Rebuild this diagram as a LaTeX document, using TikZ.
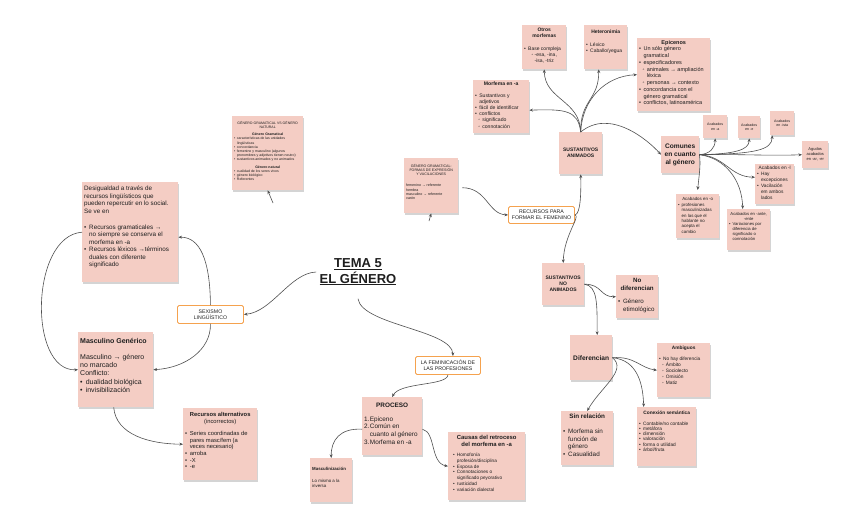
\documentclass[tikz,border=0pt]{standalone}
\usepackage{fontspec}
\setmainfont{Liberation Sans}
\usetikzlibrary{arrows.meta,shadows,calc}
\definecolor{boxpink}{RGB}{244,205,196}
\definecolor{lgray}{RGB}{80,80,80}
\definecolor{borange}{RGB}{245,162,78}
\definecolor{txt}{RGB}{30,30,30}
\newcommand{\fsz}[2]{\fontsize{#1pt}{#2pt}\selectfont}
\newcommand{\bul}[1]{\par\noindent\hangindent=0.8em\hangafter=1\relax\makebox[0.8em][l]{•}#1\par}
\newcommand{\sbul}[1]{\par\noindent\hangindent=1.4em\hangafter=1\relax\hspace*{0.6em}\makebox[0.8em][l]{◦}#1\par}
\newcommand{\nbul}[2]{\par\noindent\hangindent=0.9em\hangafter=1\relax\makebox[0.9em][l]{#1}#2\par}
\tikzset{
  pinkbox/.style={fill=boxpink, inner sep=2pt, anchor=north west, text=txt,
    drop shadow={shadow xshift=0.3pt, shadow yshift=-1.6pt, opacity=0.28, fill=black!60}},
  obox/.style={draw=borange, line width=0.9pt, fill=white, rounded corners=1.5pt,
    anchor=north west, align=center, inner sep=1pt, font=\fsz{5.2}{6}, text=txt},
  conn/.style={draw=lgray, line width=0.6pt, -{Stealth[length=3.6pt,width=3pt]}}
}
\newcommand{\pbx}[7]{%
  \node[pinkbox] (#1) at (#2,#3) {\parbox[t][\dimexpr#5pt-4pt\relax][#6]{\dimexpr#4pt-4pt\relax}{\parskip=0pt\raggedright #7}};}
\begin{document}
\begin{tikzpicture}[x=1pt,y=-1pt]
\useasboundingbox[fill=white] (0,0) rectangle (848,519);

% title
\node[font=\bfseries\fsz{13}{15.5}, text=txt, align=center] (tema) at (358,272) {\underline{TEMA 5}\\\underline{EL GÉNERO}};

% orange boxes
\node[obox, minimum width=66pt, minimum height=18pt] (sex) at (177,305) {SEXISMO\\LINGÜÍSTICO};
\node[obox, minimum width=65pt, minimum height=18pt] (fem) at (415,356) {LA FEMINICACIÓN DE\\LAS PROFESIONES};
\node[obox, minimum width=66pt, minimum height=17pt] (rec) at (508,206) {RECURSOS PARA\\FORMAR EL FEMENINO};

% pink boxes
\pbx{gvn}{232}{116}{71}{74}{t}{\fsz{3.5}{4.2}\vspace*{3pt}{\centering GÉNERO GRAMATICAL VS GÉNERO\\NATURAL\par}\vspace{3pt}{\centering\bfseries Género Gramatical\par}\bul{características de las unidades\newline lingüísticas}\bul{concordancia}\bul{femenino y masculino (algunos\newline pronombres y adjetivos tienen neutro)}\bul{sustantivos animados y no animados}\vspace{3pt}{\centering\bfseries Género natural\par}\bul{cualidad de los seres vivos}\bul{género biológico}\bul{Referentes}}

\pbx{frm}{404}{158}{54}{55}{t}{\fsz{3.6}{4.2}\vspace*{4pt}{\centering GÉNERO GRAMATICAL:\\FORMAS DE EXPRESIÓN\\Y VACILACIONES\par}\vspace{7pt}femenino → referente\\hembra\\masculino → referente\\varón}

\pbx{om}{522}{25}{44}{44}{t}{\fsz{5}{6.3}\vspace*{1pt}{\centering\bfseries Otros\\morfemas\par}\vspace{6pt}\bul{Base compleja}{\centering ◦ -esa, -ina,\\-isa, -triz\par}}

\pbx{het}{584}{25}{43}{44}{t}{\fsz{5}{6.5}\vspace*{3pt}{\centering\bfseries Heteronimia\par}\vspace{6pt}\bul{Léxico}\bul{Caballo/yegua}}

\pbx{epi}{637}{38}{73}{73}{t}{\fsz{5.5}{6.75}{\centering\bfseries Epicenos\par}\bul{Un sólo género\newline gramatical}\bul{especificadores}\sbul{animales → ampliación\newline léxica}\sbul{personas → contexto}\bul{concordancia con el\newline género gramatical}\bul{conflictos, latinoamérica}}

\pbx{mfa}{473}{80}{56}{53}{t}{\fsz{5.1}{6.2}{\centering\bfseries Morfema en -a\par}\vspace{5pt}\bul{Sustantivos y\newline adjetivos}\bul{fácil de identificar}\bul{conflictos}\sbul{significado}\sbul{connotación}}

\pbx{sa}{559}{132}{43}{42}{c}{\fsz{5}{6}\centering\bfseries SUSTANTIVOS\\ANIMADOS}

\pbx{com}{661}{136}{38}{37}{c}{\fsz{6.6}{7.9}\centering\bfseries Comunes\\en cuanto\\al género}

\pbx{acA}{703}{115}{24}{23}{c}{\fsz{3.6}{4.8}\centering Acabados\\en -a}
\pbx{acE}{738}{116}{22}{22}{c}{\fsz{3.6}{4.8}\centering Acabados\\en -e}
\pbx{acI}{770}{111}{24}{24}{c}{\fsz{3.6}{4.8}\centering Acabados\\en -ista}
\pbx{agu}{802}{141}{26}{27}{c}{\fsz{4}{5}\centering Agudos\\acabados\\en -ar, -er}

\pbx{acL}{755}{164}{39}{40}{t}{\fsz{4.8}{5.9}{\centering Acabados en -l\par}\bul{Hay\newline excepciones}\bul{Vacilación\newline em ambos\newline lados}}

\pbx{acO}{676}{194}{43}{44}{t}{\fsz{4.4}{5.4}\vspace*{1.5pt}{\centering Acabados en -o\par}\bul{profesiones\newline masculinizadas\newline en las que el\newline hablante no\newline acepta el\newline cambio}}

\pbx{acN}{727}{209}{43}{41}{t}{\fsz{4.2}{5.1}\vspace*{1pt}{\centering Acabados en -ante,\\-ente\par}\bul{Variaciones por\newline diferencia de\newline significado o\newline connotación}}

\pbx{desig}{82}{182}{96}{100}{t}{\fsz{6.3}{7.4}\vspace*{2pt}Desigualdad a través de\\recursos lingüísticos que\\pueden repercutir en lo social.\\Se ve en\par\vspace{9pt}\bul{Recursos gramaticales →\newline no siempre se conserva el\newline morfema en -a}\bul{Recursos léxicos →términos\newline duales con diferente\newline significado}}

\pbx{masc}{78}{332}{75}{75}{t}{\fsz{7}{8.2}\vspace*{4pt}\textbf{Masculino Genérico}\par\vspace{8pt}Masculino → género\\no marcado\\Conflicto:\par\bul{dualidad biológica}\bul{invisibilización}}

\pbx{recalt}{183}{408}{74}{72}{t}{\fsz{5.8}{6.6}\vspace*{2pt}{\centering\textbf{Recursos alternativos}\\(incorrectos)\par}\vspace{6pt}\bul{Series coordinadas de\newline pares masc/fem (a\newline veces necesario)}\bul{arroba}\bul{-X}\bul{-e}}

\pbx{proc}{362}{397}{60}{58}{t}{\fsz{6.4}{7.6}\vspace*{4pt}{\centering\bfseries PROCESO\par}\vspace{6pt}\nbul{1.}{Epiceno}\nbul{2.}{Común en\newline cuanto al género}\nbul{3.}{Morfema en -a}}

\pbx{mascz}{310}{458}{42}{44}{t}{\fsz{4.4}{5}\vspace*{7pt}\textbf{Masculinización}\par\vspace{7pt}Lo mismo a la\\inversa}

\pbx{causas}{448}{432}{77}{68}{t}{\fsz{5.9}{7.2}\vspace*{1pt}{\centering\bfseries Causas del retroceso\\del morfema en -a\par}\vspace{4pt}\fsz{4.7}{5.8}\leftskip=3pt\bul{Homofonía\newline profesión/disciplina}\bul{Esposa de}\bul{Connotaciones o\newline significado peyorativo}\bul{rusticidad}\bul{variación dialectal}}

\pbx{sna}{542}{263}{42}{42}{c}{\fsz{5}{6}\centering\bfseries SUSTANTIVOS\\NO\\ANIMADOS}

\pbx{nod}{616}{275}{42}{43}{t}{\fsz{6.2}{7.6}\vspace*{1pt}{\centering\bfseries No\\diferencian\par}\vspace{6pt}\bul{Género\newline etimológico}}

\pbx{dif}{570}{335}{42}{45}{c}{\fsz{6.6}{8}\centering\bfseries Diferencian}

\pbx{amb}{657}{343}{53}{54}{t}{\fsz{4.8}{6}\vspace*{1pt}{\centering\bfseries Ambiguos\par}\vspace{5pt}\bul{No hay diferencia}\sbul{Ámbito}\sbul{Sociolecto}\sbul{Omisión}\sbul{Matiz}}

\pbx{sinrel}{561}{411}{52}{54}{t}{\fsz{6.3}{7.6}\vspace*{1pt}{\centering\bfseries Sin relación\par}\vspace{7pt}\bul{Morfema sin\newline función de\newline género}\bul{Casualidad}}

\pbx{conex}{637}{407}{59}{59}{t}{\fsz{4.8}{5.3}\vspace*{2pt}{\centering\bfseries Conexión semántica\par}\vspace{5pt}\bul{Contable/no contable}\bul{metáfora}\bul{dimensión}\bul{valoración}\bul{forma o utilidad}\bul{árbol/fruta}}

% connectors
\draw[conn] (tema.west) .. controls (290,273) and (272,312) .. (sex.east);
\draw[conn] ([yshift=-10pt]tema.south) .. controls (362,325) and (452,330) .. ([xshift=5pt]fem.north);
\draw[conn] (sex.north) .. controls (210,260) and (200,237) .. ([yshift=-5pt]desig.east);
\draw[conn] (sex.south) .. controls (211,350) and (185,368) .. (masc.east);
\draw[conn] (desig.west) .. controls (30,236) and (28,372) .. (masc.west);
\draw[conn] ([xshift=-2pt]masc.south) .. controls (116,435) and (150,444) .. (recalt.west);
\draw[conn] (fem.south) .. controls (447,386) and (400,382) .. (proc.north);
\draw[conn] ([yshift=-3pt]proc.west) .. controls (340,428) and (331,440) .. (mascz.north);
\draw[conn] ([yshift=-3pt]proc.east) .. controls (436,432) and (430,463) .. (causas.west);

\coordinate (s1) at (273,203);
\draw[conn] (s1) -- (gvn.south);
\coordinate (s2) at (429,221);
\draw[conn] (s2) -- (frm.south);
\draw[conn] ([xshift=4pt,yshift=-2pt]frm.east) .. controls (487,188) and (488,214) .. (rec.west);
\draw[conn] (rec.east) .. controls (581,214) and (581,190) .. (sa.south);
\draw[conn] (rec.east) .. controls (581,216) and (564,235) .. (sna.north);

\draw[conn] (sa.north) .. controls (580,100) and (545,100) .. (om.south);
\draw[conn] (sa.north) .. controls (580,100) and (599,100) .. ([xshift=-7pt]het.south);
\draw[conn] (sa.north) .. controls (582,100) and (605,76) .. (epi.west);
\draw[conn] (sa.north) .. controls (578,110) and (565,109) .. ([yshift=-3.5pt]mfa.east);
\draw[conn] (sa.north) .. controls (610,108) and (648,140) .. (com.west);

\draw[conn] (com.east) .. controls (710,154) and (715,148) .. (acA.south);
\draw[conn] (com.east) .. controls (735,154) and (749,150) .. (acE.south);
\draw[conn] (com.east) .. controls (755,154) and (772,150) .. ([xshift=-10pt]acI.south);
\draw[conn] (com.east) .. controls (740,154) and (770,156) .. (agu.west);
\draw[conn] (com.east) .. controls (725,156) and (730,177) .. ([yshift=7pt]acL.west);
\draw[conn] (com.east) .. controls (701,165) and (699,175) .. ([yshift=4pt]acO.north);
\draw[conn] (com.east) .. controls (725,158) and (742,180) .. ([xshift=-6pt]acN.north);

\draw[conn] (sna.east) .. controls (602,284) and (600,297) .. (nod.west);
\draw[conn] (sna.east) .. controls (598,286) and (597,305) .. ([xshift=6pt]dif.north);

\draw[conn] (dif.east) .. controls (635,356) and (640,368) .. (amb.west);
\draw[conn] (dif.east) .. controls (638,360) and (643,385) .. ([xshift=-23pt]conex.north);
\draw[conn] (dif.east) .. controls (628,370) and (600,388) .. (sinrel.north);
\end{tikzpicture}
\end{document}
